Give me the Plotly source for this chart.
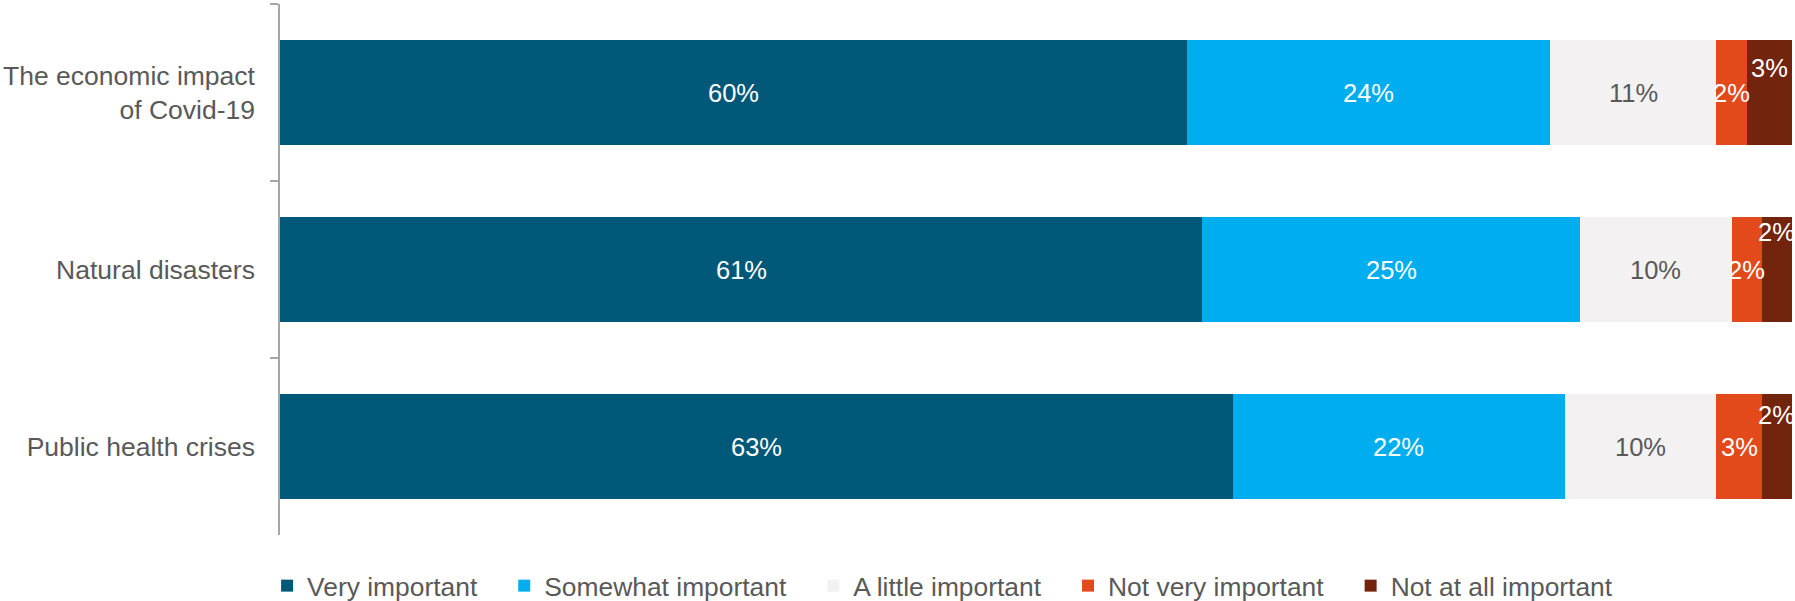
import plotly.graph_objects as go

categories = ["The economic impact<br>of Covid-19", "Natural disasters", "Public health crises"]
series_names = ["Very important", "Somewhat important", "A little important",
                "Not very important", "Not at all important"]
very_important = [60, 61, 63]
somewhat_important = [24, 25, 22]
a_little_important = [11, 10, 10]
not_very_important = [2, 2, 3]
not_at_all_important = [3, 2, 2]

series_values = [very_important, somewhat_important, a_little_important,
                 not_very_important, not_at_all_important]
colors = ["#005878", "#00AEEF", "#F3F1F2", "#E24A1B", "#73240D"]
label_colors = ["#FFFFFF", "#FFFFFF", "#595959", "#FFFFFF", "#FFFFFF"]
# manual upward nudges of the last series' labels (as in the original)
last_label_shift = [25, 38, 32]

FONT = "Arial, Liberation Sans, sans-serif"
fig = go.Figure()
pad = "\u00a0\u00a0\u00a0"
for name, vals, col in zip(series_names, series_values, colors):
    fig.add_trace(go.Bar(
        y=categories, x=vals, name=name + pad, orientation="h",
        marker=dict(color=col, line=dict(width=0)),
        hoverinfo="x+y+name",
    ))

annotations = []
cum = [0] * len(categories)
for si, (vals, lc) in enumerate(zip(series_values, label_colors)):
    for ci, v in enumerate(vals):
        ys = last_label_shift[ci] if si == len(series_values) - 1 else 0
        annotations.append(dict(
            x=cum[ci] + v / 2, y=categories[ci], xref="x", yref="y",
            text=f"{v}%", showarrow=False, yshift=ys,
            font=dict(family=FONT, size=25.5, color=lc),
        ))
        cum[ci] += v

fig.update_layout(
    template="none",
    barmode="stack", bargap=0.41,
    width=1795, height=601,
    margin=dict(l=280, r=3, t=4, b=66, autoexpand=False),
    plot_bgcolor="white", paper_bgcolor="white",
    font=dict(family=FONT, size=26.5, color="#595959"),
    annotations=annotations,
    showlegend=True,
    legend=dict(orientation="h", xref="container", yref="container",
                x=0.1488, xanchor="left", y=0.025, yanchor="middle",
                font=dict(family=FONT, size=26.4, color="#595959"),
                traceorder="normal", bgcolor="rgba(0,0,0,0)", borderwidth=0),
    xaxis=dict(range=[0, 100], visible=False, showgrid=False, zeroline=False,
               automargin=False),
    yaxis=dict(categoryorder="array", categoryarray=categories, automargin=False,
               range=[2.5, -0.5], showline=True, linecolor="#A6A6A6", linewidth=1.5,
               ticks="outside", tickson="boundaries", ticklen=8, tickcolor="#A6A6A6",
               tickwidth=1.5, ticklabelstandoff=18, showgrid=False, zeroline=False,
               tickfont=dict(family=FONT, size=26.5, color="#595959")),
)

fig.write_html("out.html", config={"displayModeBar": False},
               post_script="document.body.style.margin='0px';document.body.style.overflow='hidden';")
